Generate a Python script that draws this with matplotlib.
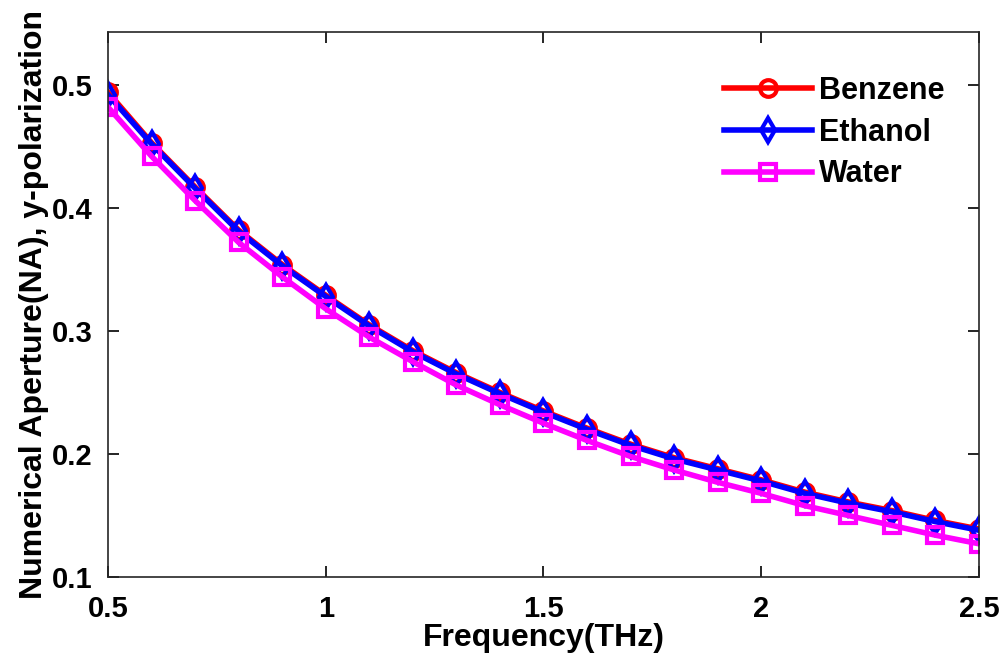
import numpy as np
import matplotlib
matplotlib.use("Agg")
import matplotlib.pyplot as plt

plt.rcParams['font.family'] = ['Liberation Sans', 'DejaVu Sans']
plt.rcParams['font.weight'] = 'bold'

freq = [0.5, 0.6, 0.7, 0.8, 0.9, 1.0, 1.1, 1.2, 1.3, 1.4, 1.5,
        1.6, 1.7, 1.8, 1.9, 2.0, 2.1, 2.2, 2.3, 2.4, 2.5]
ethanol = [0.492, 0.452, 0.416, 0.381, 0.353, 0.328, 0.304, 0.283, 0.265, 0.249, 0.234,
           0.220, 0.207, 0.196, 0.187, 0.178, 0.168, 0.160, 0.153, 0.145, 0.138]
benzene = [0.494, 0.453, 0.417, 0.382, 0.354, 0.329, 0.305, 0.284, 0.266, 0.250, 0.235,
           0.221, 0.208, 0.197, 0.188, 0.179, 0.169, 0.161, 0.154, 0.146, 0.139]
water = [0.482, 0.442, 0.406, 0.372, 0.344, 0.318, 0.295, 0.275, 0.256, 0.240, 0.225,
         0.211, 0.198, 0.187, 0.177, 0.168, 0.158, 0.150, 0.142, 0.134, 0.127]

fig = plt.figure(figsize=(10.03, 6.70), dpi=100)
ax = fig.add_axes([0.1077, 0.1388, 0.8683, 0.8134])

ax.plot(freq, benzene, '-o', color='#FF0000', lw=4, ms=12, mew=3, mfc='none', label='Benzene')
ax.plot(freq, ethanol, '-d', color='#0000FF', lw=4, ms=12, mew=3, mfc='none', label='Ethanol')
ax.plot(freq, water, '-s', color='#FF00FF', lw=4, ms=11, mew=3, mfc='none', label='Water')

ax.set_xlim(0.5, 2.5)
ax.set_ylim(0.1, 0.543)
ax.set_xticks([0.5, 1, 1.5, 2, 2.5])
ax.set_xticklabels(['0.5', '1', '1.5', '2', '2.5'])
ax.set_yticks([0.1, 0.2, 0.3, 0.4, 0.5])
ax.tick_params(direction='in', top=True, right=True, labelsize=21, length=8, width=1.2)
ax.tick_params(axis='x', pad=13)
ax.tick_params(axis='y', pad=11)
for s in ax.spines.values():
    s.set_linewidth(1.2)
    s.set_color('#262626')

ax.set_xlabel('Frequency(THz)', fontsize=23, fontweight='bold', labelpad=0)
ax.set_ylabel('Numerical Aperture(NA), y-polarization', fontsize=23, fontweight='bold', labelpad=2)

leg = ax.legend(loc='upper right', bbox_to_anchor=(0.96, 0.919), frameon=False, fontsize=22,
                handlelength=2.9, handletextpad=0.2, borderaxespad=0, borderpad=0,
                labelspacing=0.38)

fig.savefig('out.png', dpi=100)
